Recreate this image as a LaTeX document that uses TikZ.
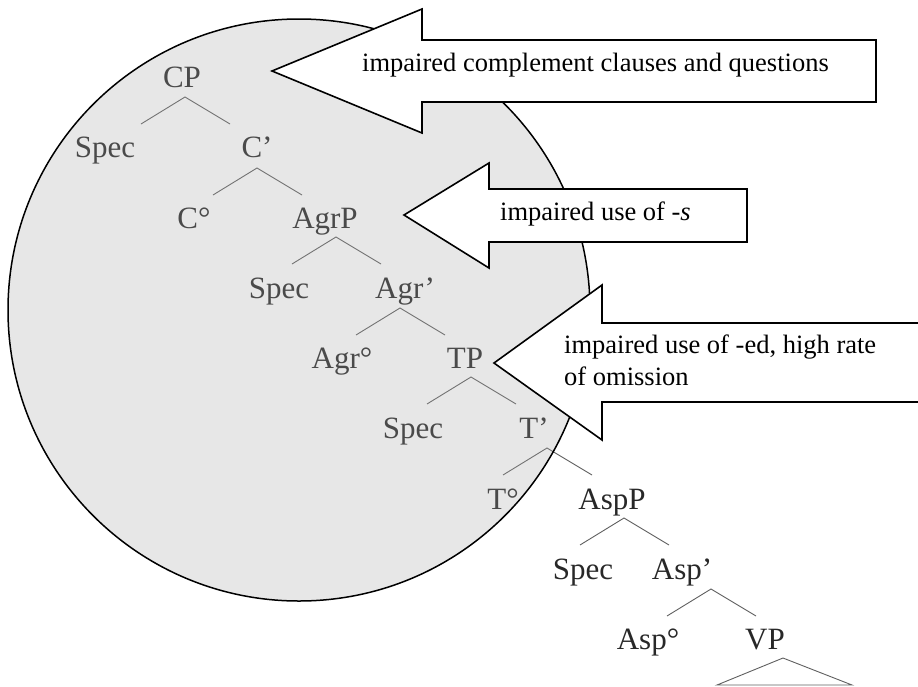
\documentclass[tikz,border=0pt]{standalone}
\usepackage{fontspec}
\setmainfont{Liberation Serif}
\definecolor{treegray}{RGB}{40,40,40}
\definecolor{linegray}{RGB}{95,95,95}
\tikzset{
  cat/.style={anchor=base,inner sep=0pt,text=treegray,font=\fontsize{31}{31}\selectfont},
  branch/.style={draw=linegray,line width=0.9pt},
  zone/.style={draw=black,line width=1.5pt,fill=black!35,fill opacity=0.27},
  callout/.style={draw=black,fill=white,line width=1.6pt,line join=miter},
  note/.style={anchor=base west,inner sep=0pt,align=left,font=\fontsize{26.5}{32}\selectfont}
}
\begin{document}
\begin{tikzpicture}[x=1pt,y=1pt]
\useasboundingbox (0,0) rectangle (918,-686);

\node[cat] (cp) at (182,-87) {CP};
\node[cat] (spec1) at (105,-157) {Spec};
\node[cat] (cbar) at (257,-157) {C’};
\node[cat] (chead) at (194,-228) {C°};
\node[cat] (agrp) at (325,-228) {AgrP};
\node[cat] (spec2) at (279,-298) {Spec};
\node[cat] (agrbar) at (405,-298) {Agr’};
\node[cat] (agrhead) at (342,-368) {Agr°};
\node[cat] (tp) at (465,-368) {TP};
\node[cat] (spec3) at (413,-438) {Spec};
\node[cat] (tbar) at (534,-438) {T’};
\node[cat] (thead) at (503,-509) {T°};
\node[cat] (aspp) at (612,-509) {AspP};
\node[cat] (spec4) at (583,-579) {Spec};
\node[cat] (aspbar) at (682,-579) {Asp’};
\node[cat] (asphead) at (648,-649) {Asp°};
\node[cat] (vp) at (765,-649) {VP};

\foreach \a/\x/\y in {cp/185/97,cbar/257/168,agrp/336/237,agrbar/400/308,
  tp/471/377,tbar/547/448,aspp/624/518,aspbar/711/589}{
  \coordinate (\a-fork) at (\x,-\y);
  \draw[branch] ([shift={(-44,-27)}]\a-fork) -- (\a-fork) -- ([shift={(45,-27)}]\a-fork);
}
\coordinate (vp-fork) at (783,-658);
\draw[branch] ([shift={(-66,-27)}]vp-fork) -- (vp-fork) -- ([shift={(69,-27)}]vp-fork) -- cycle;

\draw[zone] (299,-310) circle[radius=291pt];

\draw[callout] (272,-71) -- (422,-9) -- (422,-40) -- (876,-40) -- (876,-102) -- (422,-102) -- (422,-133) -- cycle;
\draw[callout] (404,-215) -- (489,-163) -- (489,-189) -- (747,-189) -- (747,-242) -- (489,-242) -- (489,-268) -- cycle;
\draw[callout] (494,-363) -- (602,-285) -- (602,-323) -- (940,-323) -- (940,-402) -- (602,-402) -- (602,-440) -- cycle;

\node[note] (q1) at (362,-71) {impaired complement clauses and questions};
\node[note] (q2) at (500,-220) {impaired use of -\textit{s}};
\node[note] (q3) at (564,-385) {impaired use of -ed, high rate\\of omission};
\end{tikzpicture}
\end{document}
